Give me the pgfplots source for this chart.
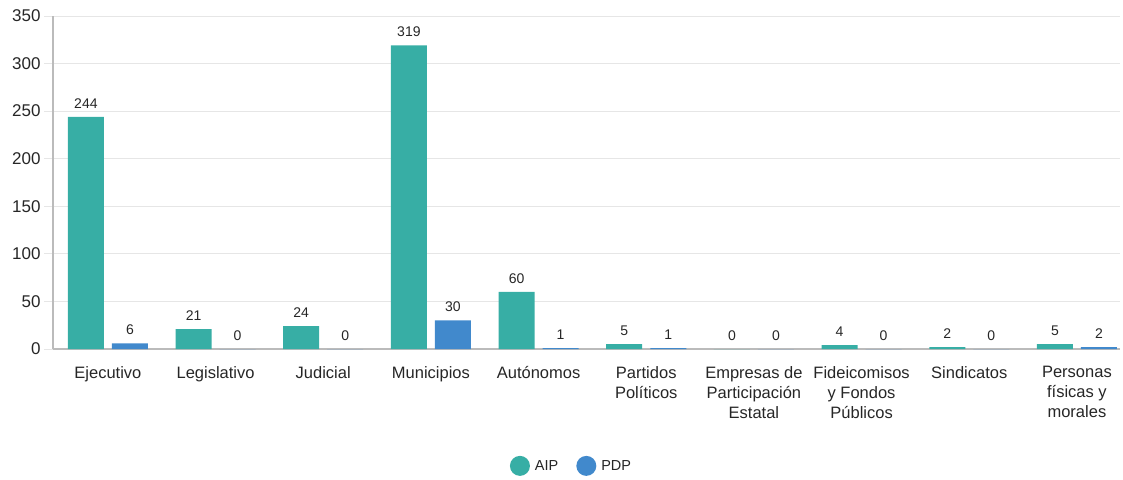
\documentclass[border=0pt]{standalone}
\usepackage{fontspec}
\setmainfont{Liberation Sans}
\usepackage{pgfplots}
\pgfplotsset{compat=1.18}
\definecolor{aip}{HTML}{37AEA5}
\definecolor{pdp}{HTML}{4189CC}
\definecolor{gridc}{HTML}{E6E6E6}
\definecolor{axc}{HTML}{BBBBBB}
\definecolor{txt}{HTML}{262626}
\begin{document}
\begin{tikzpicture}[x=1pt,y=1pt]
\path[use as bounding box] (0,0) rectangle (1123,479);
\begin{axis}[
  at={(53pt,130pt)}, anchor=south west,
  scale only axis, width=1067pt, height=333pt,
  ybar=8pt, bar width=36pt,
  xmin=-0.51, xmax=9.40, ymin=0, ymax=350,
  ytick={0,50,...,350},
  xtick={0,...,9},
  xticklabels={Ejecutivo, Legislativo, Judicial, Municipios, Autónomos, {Partidos\\Políticos}, {Empresas de\\Participación\\Estatal}, {Fideicomisos\\y Fondos\\Públicos}, Sindicatos, {Personas\\físicas y\\morales}},
  xticklabel style={align=center, font=\fontsize{16.5}{20}\selectfont, text=txt, yshift=-5pt},
  yticklabel style={font=\fontsize{17}{19}\selectfont, text=txt},
  /pgf/number format/assume math mode=true,
  major x tick style={draw=none},
  major y tick style={draw=gridc, line width=1pt},
  ymajorgrids, grid style={draw=gridc, line width=1pt},
  axis x line*=bottom, axis y line*=left,
  x axis line style={draw=axc, line width=1.5pt, -},
  y axis line style={draw=axc, line width=1.5pt, -},
  tick align=outside, major tick length=9pt,
  nodes near coords,
  every node near coord/.append style={font=\fontsize{14}{16}\selectfont, text=txt, yshift=5pt},
  legend style={at={(0.486,-0.351)}, anchor=center, draw=none, legend columns=2,
    font=\fontsize{14.5}{16}\selectfont, text=txt,
    /tikz/every even column/.append style={column sep=16pt}},
  legend image code/.code={\path (0pt,0pt) (21pt,0pt); \fill[#1, draw=none] (8pt,0pt) circle (10pt);},
]
\addplot[fill=aip, draw=none] coordinates {(0,244) (1,21) (2,24) (3,319) (4,60) (5,5) (6,0) (7,4) (8,2) (9,5)};
\addplot[fill=pdp, draw=none] coordinates {(0,6) (1,0) (2,0) (3,30) (4,1) (5,1) (6,0) (7,0) (8,0) (9,2)};
\legend{AIP, PDP}
\end{axis}
\end{tikzpicture}
\end{document}
